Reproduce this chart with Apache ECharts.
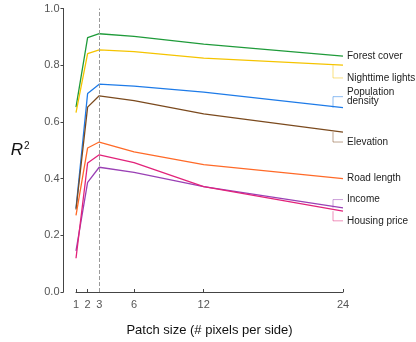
<!DOCTYPE html>
<html>
<head>
<meta charset="utf-8">
<script src="https://cdn.jsdelivr.net/npm/echarts@6/dist/echarts.min.js"></script>
<style>
  html, body { margin: 0; padding: 0; background: #fff; }
  #chart { width: 416px; height: 342px; }
</style>
</head>
<body>
<div id="chart"></div>
<script>
const patchSizes = [1, 2, 3, 6, 12, 24]
const yTicks = [0, 0.2, 0.4, 0.6, 0.8, 1.0]

const names = ['Forest cover', 'Nighttime lights', 'Population\ndensity', 'Elevation', 'Road length', 'Income', 'Housing price']
const colors = ['#1f9b3a', '#f5c400', '#1e7be8', '#7b4a1e', '#ff6a28', '#9a40b5', '#e2237a']

const forestCover = [0.652, 0.897, 0.911, 0.902, 0.874, 0.832]
const nighttimeLights = [0.633, 0.841, 0.854, 0.848, 0.825, 0.800]
const populationDensity = [0.295, 0.700, 0.733, 0.726, 0.705, 0.650]
const elevation = [0.291, 0.652, 0.692, 0.675, 0.628, 0.564]
const roadLength = [0.270, 0.508, 0.529, 0.494, 0.449, 0.400]
const income = [0.145, 0.387, 0.440, 0.422, 0.372, 0.297]
const housingPrice = [0.119, 0.455, 0.484, 0.456, 0.372, 0.285]

// where each end label sits (in R^2 units)
const labelLevels = [0.832, 0.755, 0.689, 0.529, 0.400, 0.326, 0.251]

// the dashed reference line sits at this patch size
const markedPatch = 3

const allSeries = [forestCover, nighttimeLights, populationDensity, elevation, roadLength, income, housingPrice]

const chart = echarts.init(document.getElementById('chart'))

const lineSeries = allSeries.map((vals, i) => ({
  name: names[i],
  type: 'line',
  data: patchSizes.map((x, j) => [x, vals[j]]),
  symbol: 'none',
  lineStyle: { color: colors[i], width: 1.3 },
  itemStyle: { color: colors[i] },
  z: 3
}))

// dashed marker at patch size 3
lineSeries[0].markLine = {
  silent: true,
  symbol: 'none',
  label: { show: false },
  lineStyle: { color: '#9a9a9a', type: 'dashed', width: 1 },
  data: [[{ coord: [markedPatch, 0] }, { coord: [markedPatch, 1] }]]
}

const labelSeries = {
  type: 'custom',
  clip: false,
  silent: true,
  data: allSeries.map((vals, i) => [patchSizes[patchSizes.length - 1], vals[vals.length - 1], labelLevels[i]]),
  renderItem: function (params, api) {
    const i = params.dataIndex
    const end = api.coord([api.value(0), api.value(1)])
    const lab = api.coord([api.value(0), api.value(2)])
    const children = []
    if (Math.abs(end[1] - lab[1]) > 2) {
      children.push({
        type: 'polyline',
        shape: { points: [[end[0] - 10, end[1]], [end[0] - 10, lab[1]], [end[0], lab[1]]] },
        style: { stroke: colors[i], lineWidth: 1, fill: null, opacity: 0.5 }
      })
    }
    children.push({
      type: 'text',
      x: end[0] + 4,
      y: lab[1],
      style: {
        text: names[i],
        fill: '#222',
        font: '10px "Liberation Sans", Arial, sans-serif',
        lineHeight: 9,
        verticalAlign: 'middle',
        align: 'left'
      }
    })
    return { type: 'group', children: children }
  }
}

chart.setOption({
  animation: false,
  backgroundColor: '#fff',
  textStyle: { fontFamily: '"Liberation Sans", Arial, sans-serif' },
  grid: { left: 76, right: 73, top: 8.5, bottom: 49 },
  xAxis: {
    type: 'value',
    min: 1,
    max: 24,
    name: 'Patch size (# pixels per side)',
    nameLocation: 'middle',
    nameGap: 32,
    nameTextStyle: { fontSize: 13, color: '#111' },
    axisLine: { lineStyle: { color: '#444', width: 1 } },
    axisTick: { show: true, inside: true, length: 3, customValues: patchSizes, lineStyle: { color: '#444' } },
    axisLabel: { customValues: patchSizes, fontSize: 11, color: '#555', margin: 7 },
    splitLine: { show: false }
  },
  yAxis: {
    type: 'value',
    min: 0,
    max: 1,
    interval: 0.2,
    offset: 12.5,
    name: '{r|R}{s|2}',
    nameLocation: 'middle',
    nameRotate: 0,
    nameGap: 34,
    nameTextStyle: {
      rich: {
        r: { fontSize: 17, fontStyle: 'italic', color: '#111', verticalAlign: 'bottom' },
        s: { fontSize: 10, color: '#111', verticalAlign: 'top', padding: [0, 0, 8, 1] }
      }
    },
    axisLine: { show: true, lineStyle: { color: '#444', width: 1 } },
    axisTick: { show: true, length: 3, lineStyle: { color: '#444' } },
    axisLabel: { formatter: v => v.toFixed(1), fontSize: 11, color: '#555', margin: 4 },
    splitLine: { show: false }
  },
  series: [...lineSeries, labelSeries]
})
</script>
</body>
</html>
